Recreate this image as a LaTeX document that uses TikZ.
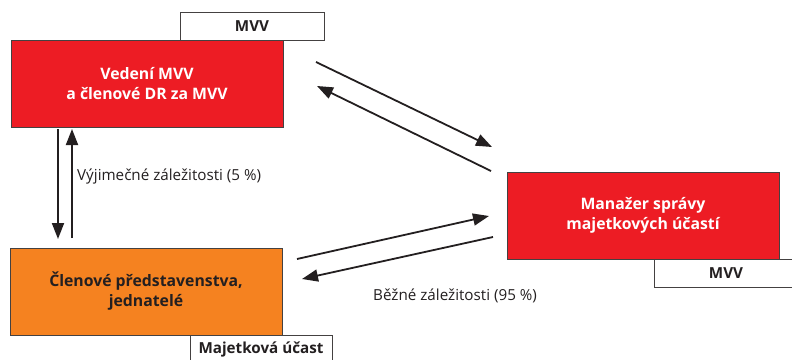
\documentclass[tikz,border=0pt]{standalone}
\usepackage{fontspec}
\setmainfont{Open Sans}
\usetikzlibrary{arrows.meta}
\definecolor{boxred}{HTML}{ED1C24}
\definecolor{boxorange}{HTML}{F58220}
\definecolor{ink}{HTML}{231F20}
\tikzset{
  mainbox/.style={draw=ink!85, line width=0.9pt, minimum width=272pt, minimum height=87pt, inner sep=0pt, align=center, font=\fontsize{15.8}{20}\selectfont\bfseries},
  redbox/.style={mainbox, fill=boxred, text=white},
  orangebox/.style={mainbox, fill=boxorange, text=ink},
  tagbox/.style={draw=ink!85, line width=0.9pt, fill=white, minimum width=144pt, minimum height=28pt, inner sep=0pt, text=ink, font=\fontsize{15.2}{17}\selectfont\bfseries},
  flow/.style={draw=ink, line width=1.8pt, -{Triangle[length=16pt,width=12pt]}},
  lbl/.style={text=ink, font=\fontsize{15.2}{17}\selectfont, inner sep=0pt}
}
\begin{document}
\begin{tikzpicture}[x=1pt,y=-1pt]
\useasboundingbox (0,0) rectangle (792,359);
% tags behind boxes
\node[tagbox] (tag1) at (252,26) {MVV};
\node[tagbox] (tag2) at (726,273.5) {MVV};
\node[tagbox, minimum width=142pt] (tag3) at (261,349) {Majetková účast};
% main boxes
\node[redbox] (vedeni) at (147,83.5) {Vedení MVV\\a členové DR za MVV};
\node[redbox] (manazer) at (643,215.5) {Manažer správy\\majetkových účastí};
\node[orangebox] (clenove) at (146,291.5) {Členové představenstva,\\jednatelé};
% connector end points
\coordinate (v1s) at (58,129);
\coordinate (v1e) at (58,239);
\coordinate (v2s) at (72,238);
\coordinate (v2e) at (72,129);
\coordinate (d1s) at (316,62);
\coordinate (d1e) at (492,147);
\coordinate (d2s) at (491,171);
\coordinate (d2e) at (317,86);
\coordinate (b1s) at (297,259);
\coordinate (b1e) at (489,216);
\coordinate (b2s) at (493,237);
\coordinate (b2e) at (302,279);
\draw[flow] (v1s) -- (v1e);
\draw[flow] (v2s) -- (v2e);
\draw[flow] (d1s) -- (d1e);
\draw[flow] (d2s) -- (d2e);
\draw[flow] (b1s) -- (b1e);
\draw[flow] (b2s) -- (b2e);
% labels
\node[lbl, anchor=west] (l1) at (77,176) {Výjimečné záležitosti (5 \%)};
\node[lbl, anchor=west] (l2) at (373,296) {Běžné záležitosti (95 \%)};
\end{tikzpicture}
\end{document}
